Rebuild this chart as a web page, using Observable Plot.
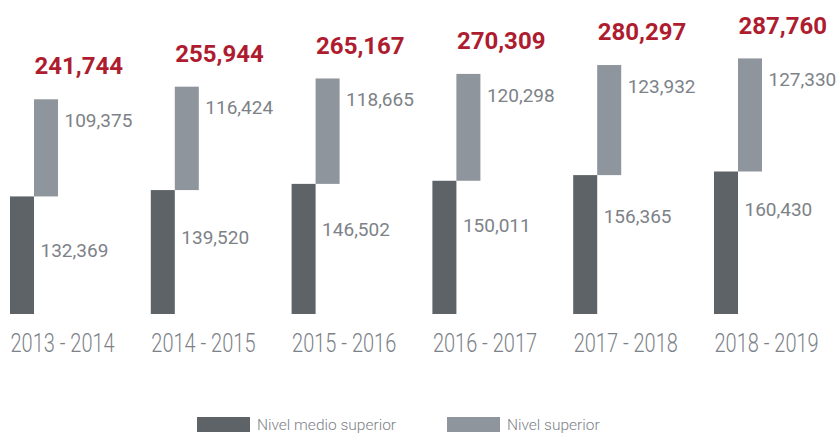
<!DOCTYPE html>
<html>
<head>
<meta charset="utf-8">
<script src="https://cdn.jsdelivr.net/npm/d3@7"></script>
<script src="https://cdn.jsdelivr.net/npm/@observablehq/plot@0.6"></script>
<style>
  body { margin: 0; background: #fff; font-family: Roboto, sans-serif; }
  #wrap { position: relative; width: 837px; height: 436px; }
  #legend { position: absolute; left: 0; top: 400px; width: 837px; height: 36px; }
  .sw { position: absolute; top: 17px; width: 53px; height: 15px; }
  .lb { position: absolute; top: 15px; font-size: 15.5px; font-weight: 300; color: #7d8288; line-height: 20px; }
</style>
</head>
<body>
<div id="wrap">
  <div id="chart"></div>
  <div id="legend"></div>
</div>
<script>
const years = ["2013 - 2014", "2014 - 2015", "2015 - 2016", "2016 - 2017", "2017 - 2018", "2018 - 2019"];
const medio = [132369, 139520, 146502, 150011, 156365, 160430];
const superior = [109375, 116424, 118665, 120298, 123932, 127330];
const totals = [241744, 255944, 265167, 270309, 280297, 287760];
const seriesNames = ["Nivel medio superior", "Nivel superior"];

const colors = { medio: "#5d6366", superior: "#8e959c", total: "#ae1c2f", text: "#7d8288" };
const fmt = d3.format(",");
const data = years.map((y, i) => ({ year: y, medio: medio[i], superior: superior[i], total: totals[i] }));

const chart = Plot.plot({
  width: 837,
  height: 400,
  marginLeft: 10,
  marginRight: 75,
  marginTop: 20,
  marginBottom: 86,
  style: { fontFamily: "Roboto, sans-serif", background: "#fff" },
  x: { domain: years, paddingInner: 0.659, paddingOuter: 0, round: false, axis: null },
  y: { domain: [0, 331000], axis: null },
  marks: [
    Plot.barY(data, { x: "year", y1: 0, y2: "medio", fill: colors.medio, insetRight: 24 }),
    Plot.barY(data, { x: "year", y1: "medio", y2: "total", fill: colors.superior, insetLeft: 24 }),
    Plot.text(data, { x: "year", y: "total", text: d => fmt(d.total), textAnchor: "start", dy: -33, fill: colors.total, fontSize: 24, fontWeight: 700 }),
    Plot.text(data, { x: "year", y: "total", text: d => fmt(d.superior), textAnchor: "start", dx: 30, dy: 21, fill: colors.text, fontSize: 19 }),
    Plot.text(data, { x: "year", y: "total", text: d => fmt(d.medio), textAnchor: "start", dx: 6, dy: 151, fill: colors.text, fontSize: 19 }),
    Plot.text(years, { x: d => d, frameAnchor: "bottom", lineAnchor: "middle", text: d => d, textAnchor: "start", dx: -24, dy: 29, fill: colors.text, fontSize: 25, fontWeight: 300 })
  ]
});
document.getElementById("chart").appendChild(chart);

// condense the category labels horizontally to match the narrow typeface of the original
d3.select(chart).selectAll("text").each(function () {
  const t = this.textContent;
  if (/^\d{4} - \d{4}$/.test(t)) {
    const tr = this.getAttribute("transform");
    if (tr) {
      this.setAttribute("transform", tr + " scale(0.8,1)");
    } else {
      const x = +this.getAttribute("x") || 0;
      this.setAttribute("transform", `translate(${x},0) scale(0.8,1) translate(${-x},0)`);
    }
  }
});

const legend = d3.select("#legend");
const legendItems = [
  { name: seriesNames[0], color: colors.medio, x: 197 },
  { name: seriesNames[1], color: colors.superior, x: 447 }
];
legendItems.forEach(it => {
  legend.append("div").attr("class", "sw").style("left", it.x + "px").style("background", it.color);
  legend.append("div").attr("class", "lb").style("left", (it.x + 60) + "px").text(it.name);
});
</script>
</body>
</html>
